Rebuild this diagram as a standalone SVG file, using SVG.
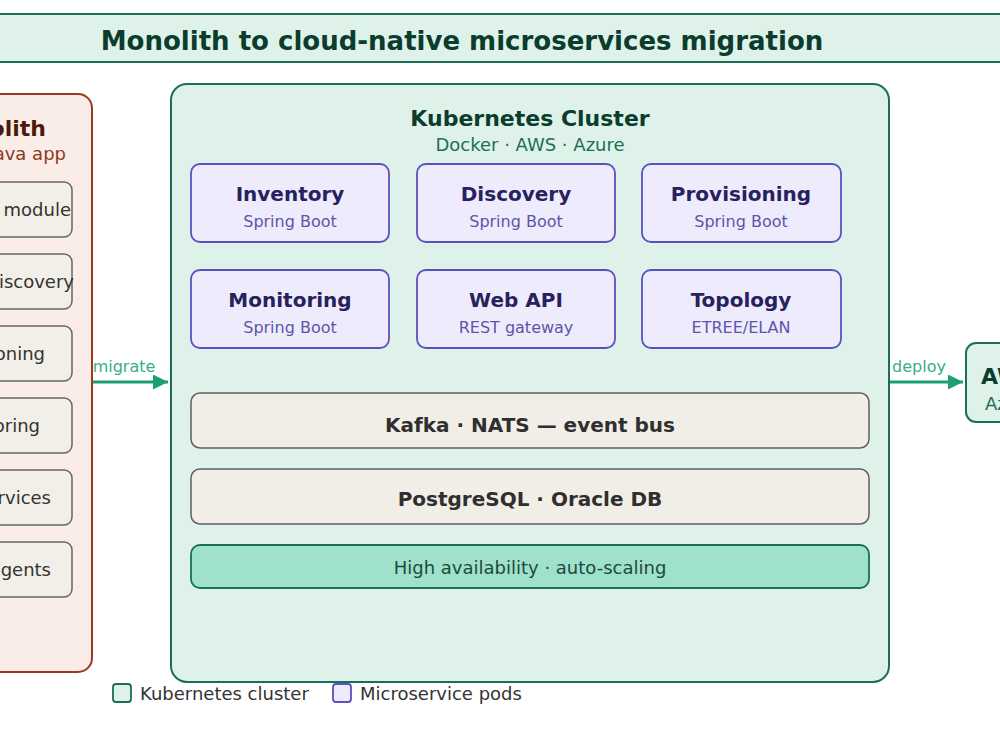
<svg xmlns="http://www.w3.org/2000/svg" width="1000" height="750" viewBox="0 0 1000 750">
<defs>
<style>
text{font-family:"DejaVu Sans","Liberation Sans",sans-serif}
.b{font-weight:bold}
.mid{text-anchor:middle}
.end{text-anchor:end}
.mod{fill:#f1efe8;stroke:#666;stroke-width:1.5}
.modt{font-size:18px;fill:#333}
.pod{fill:#eeecfc;stroke:#5b50c0;stroke-width:1.8}
.podt{font-size:20px;font-weight:bold;fill:#27215e;text-anchor:middle}
.pods{font-size:16px;fill:#5d55a8;text-anchor:middle}
.bar{fill:#f1eee8;stroke:#5f5f5f;stroke-width:1.5}
.bart{font-size:20px;font-weight:bold;fill:#2f2f2f;text-anchor:middle}
.green{fill:#dff2ea;stroke:#1b6f57;stroke-width:2}
.conn{stroke:#1d9e75;stroke-width:3;fill:none}
.lbl{font-size:16px;fill:#3aae87;text-anchor:middle}
</style>
<marker id="ah" viewBox="0 0 10 10" refX="10" refY="5" markerWidth="5" markerHeight="5" orient="auto" markerUnits="strokeWidth">
<path d="M0,0 L10,5 L0,10 z" fill="#1d9e75"/>
</marker>
</defs>
<rect width="1000" height="750" fill="#ffffff"/>

<g id="title">
<rect x="-20" y="14" width="1040" height="48" class="green"/>
<text x="462" y="50" class="b mid" font-size="26" fill="#0b3d2e">Monolith to cloud-native microservices migration</text>
</g>

<g id="monolith">
<rect x="-100" y="94" width="192" height="578" rx="14" fill="#faece7" stroke="#9c3a1f" stroke-width="2"/>
<text x="46" y="136" class="b end" font-size="22" fill="#4a1b0c">Monolith</text>
<text x="66" y="160" class="end" font-size="18" fill="#8a3a1e">Legacy Java app</text>
<g id="mod1"><rect x="-80" y="182" width="152" height="55" rx="8" class="mod"/><text x="71" y="216" class="modt end">Inventory module</text></g>
<g id="mod2"><rect x="-80" y="254" width="152" height="55" rx="8" class="mod"/><text x="74" y="288" class="modt end">Network discovery</text></g>
<g id="mod3"><rect x="-80" y="326" width="152" height="55" rx="8" class="mod"/><text x="45" y="360" class="modt end">Provisioning</text></g>
<g id="mod4"><rect x="-80" y="398" width="152" height="55" rx="8" class="mod"/><text x="40" y="432" class="modt end">Monitoring</text></g>
<g id="mod5"><rect x="-80" y="470" width="152" height="55" rx="8" class="mod"/><text x="51" y="504" class="modt end">Web services</text></g>
<g id="mod6"><rect x="-80" y="542" width="152" height="55" rx="8" class="mod"/><text x="51" y="576" class="modt end">SNMP agents</text></g>
</g>

<g id="cluster">
<rect x="171" y="84" width="718" height="598" rx="16" class="green"/>
<text x="530" y="126" class="b mid" font-size="22" fill="#0b3d2e">Kubernetes Cluster</text>
<text x="530" y="151" class="mid" font-size="18" fill="#1b6f57">Docker · AWS · Azure</text>
</g>

<g id="pod-inventory"><rect x="191" y="164" width="198" height="78" rx="9" class="pod"/><text x="290" y="201" class="podt">Inventory</text><text x="290" y="227" class="pods">Spring Boot</text></g>
<g id="pod-discovery"><rect x="417" y="164" width="198" height="78" rx="9" class="pod"/><text x="516" y="201" class="podt">Discovery</text><text x="516" y="227" class="pods">Spring Boot</text></g>
<g id="pod-provisioning"><rect x="642" y="164" width="199" height="78" rx="9" class="pod"/><text x="741" y="201" class="podt">Provisioning</text><text x="741" y="227" class="pods">Spring Boot</text></g>
<g id="pod-monitoring"><rect x="191" y="270" width="198" height="78" rx="9" class="pod"/><text x="290" y="307" class="podt">Monitoring</text><text x="290" y="333" class="pods">Spring Boot</text></g>
<g id="pod-webapi"><rect x="417" y="270" width="198" height="78" rx="9" class="pod"/><text x="516" y="307" class="podt">Web API</text><text x="516" y="333" class="pods">REST gateway</text></g>
<g id="pod-topology"><rect x="642" y="270" width="199" height="78" rx="9" class="pod"/><text x="741" y="307" class="podt">Topology</text><text x="741" y="333" class="pods">ETREE/ELAN</text></g>

<g id="eventbus"><rect x="191" y="393" width="678" height="55" rx="9" class="bar"/><text x="530" y="432" class="bart">Kafka · NATS — event bus</text></g>
<g id="database"><rect x="191" y="469" width="678" height="55" rx="9" class="bar"/><text x="530" y="506" class="bart">PostgreSQL · Oracle DB</text></g>
<g id="ha"><rect x="191" y="545" width="678" height="43" rx="9" fill="#9fe1cb" stroke="#1b6f57" stroke-width="1.8"/><text x="530" y="574" class="mid" font-size="18" fill="#1d4a3c">High availability · auto-scaling</text></g>

<g id="cloud">
<rect x="966" y="343" width="80" height="79" rx="10" class="green"/>
<text x="981" y="384" class="b" font-size="22" fill="#0b3d2e">AWS</text>
<text x="985" y="410" font-size="18" fill="#1b6f57">Azure</text>
</g>

<g id="connectors">
<line x1="93" y1="382" x2="168" y2="382" class="conn" marker-end="url(#ah)"/>
<text x="124" y="372" class="lbl">migrate</text>
<line x1="890" y1="382" x2="963" y2="382" class="conn" marker-end="url(#ah)"/>
<text x="919" y="372" class="lbl">deploy</text>
</g>

<g id="legend">
<rect x="113" y="684" width="18" height="18" rx="3" fill="#dff2ea" stroke="#1b6f57" stroke-width="1.8"/>
<text x="140" y="700" font-size="18" fill="#333">Kubernetes cluster</text>
<rect x="333" y="684" width="18" height="18" rx="3" fill="#eeecfc" stroke="#5b50c0" stroke-width="1.8"/>
<text x="360" y="700" font-size="18" fill="#333">Microservice pods</text>
</g>
</svg>
